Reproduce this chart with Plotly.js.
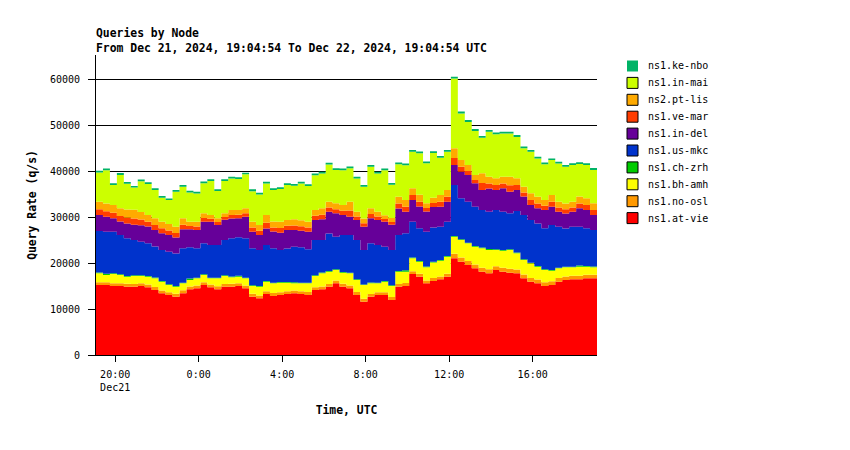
<!DOCTYPE html>
<html><head><meta charset="utf-8">
<script src="https://cdn.plot.ly/plotly-3.0.1.min.js"></script>
<style>html,body{margin:0;padding:0;background:#fff}#chart{width:850px;height:450px}</style>
</head><body><div id="chart"></div>
<script>
// Series, bottom of stack first
const seriesNames = ['ns1.at-vie','ns1.no-osl','ns1.bh-amh','ns1.ch-zrh','ns1.us-mkc','ns1.in-del','ns1.ve-mar','ns2.pt-lis','ns1.in-mai','ns1.ke-nbo'];
const seriesColors = ['#FF0000','#FF9900','#FFFF00','#00CC00','#0033CC','#660099','#FF3D00','#FFAA00','#CCFF00','#00B366'];

// 20-minute samples from 2024-12-21 19:04:54 UTC (q/s)
const atVie = [15220,15220,15000,15000,14850,14850,15000,14710,14130,13410,
 13040,12680,13410,14280,14490,15220,14710,14280,14850,14850,
 15000,14490,12680,12320,13260,12830,13040,13260,13410,13260,
 13040,14130,14280,14850,15580,14850,14490,13040,11590,12680,
 13040,13040,11960,14850,15000,17610,17030,15580,16100,16450,
 17030,21010,20290,19560,18840,18120,17750,18480,18120,17900,
 17750,16670,15940,15580,15000,15220,15940,16300,16450,16450,
 16670,16670,16670];
const noOsl = [600,620,580,600,640,610,590,620,650,630,
 600,610,640,600,620,590,610,650,600,620,
 580,610,640,620,600,630,610,590,620,600,
 640,610,620,590,600,630,610,650,640,600,
 620,610,650,600,640,590,620,610,650,640,
 620,980,900,880,860,850,870,840,860,850,
 830,820,800,810,790,800,780,770,790,760,
 780,770,760];
const bhAmh = [1940,1550,2030,1790,1530,1710,1580,1700,1890,1910,
 1570,1560,1530,1430,1550,1580,1350,1740,1720,1410,
 1450,1560,1680,1920,2080,2120,2070,1870,1550,1720,
 1900,2430,2860,2670,2300,2410,2650,2610,2980,2300,
 1920,2290,2390,2660,2480,2820,2640,2870,3350,3420,
 3730,3730,3810,3830,3850,4220,4200,3510,3710,4080,
 3520,3170,3190,2810,2690,2320,2120,1980,1820,1990,
 1760,1620,1780];
const chZrh = [150,250,150,140,160,150,150,140,160,150,
 150,140,150,300,150,160,150,140,150,160,
 200,150,140,150,160,150,150,140,250,150,
 150,160,150,140,150,160,150,150,140,160,
 150,150,160,140,300,150,150,160,150,140,
 150,160,150,150,140,160,250,150,140,150,
 160,150,150,140,160,150,150,140,150,250,
 150,160,150];
const usMkc = [9050,9170,9050,8550,8180,7680,7310,7100,6730,6730,
 7100,7100,7460,6800,6370,6730,7100,7100,7680,8330,
 8350,8550,8040,7820,7820,7460,6950,7310,7720,7680,
 7240,7680,7100,8180,7100,8040,8180,8550,7460,8550,
 8180,7460,7680,7820,8030,7820,7100,7600,7450,7240,
 7460,11080,8910,8910,8550,8180,8080,8550,8330,7820,
 9050,9630,9270,9270,8910,9780,8910,8330,8690,8450,
 8180,7970,8180];
const inDel = [3480,3260,2900,2950,3210,3300,3580,3650,3600,3640,
 3620,3480,4130,3910,3990,4710,5070,4350,4380,4330,
 4130,4710,3620,3260,3600,3640,3770,3990,3620,3610,
 3840,4350,4490,4710,5070,4350,3990,4350,5070,5440,
 5430,5400,5460,5800,4710,4690,4730,4350,4500,4350,
 4350,4350,5800,5780,5070,4350,5070,4350,5070,4710,
 4570,3990,3260,3280,3990,3970,3260,3240,3260,3990,
 3990,3260,4350];
const veMar = [1220,1200,1240,1210,1280,1370,1220,1070,1090,1060,
 1000,970,1000,700,760,780,610,630,600,760,
 760,770,910,900,1220,910,1000,920,970,960,
 910,900,1000,920,910,900,1370,760,780,910,
 760,610,620,1070,1060,1080,1070,760,840,1070,
 1060,1520,1070,910,760,1520,1070,1080,1060,1370,
 1060,910,1070,1060,910,1070,900,920,910,1070,
 1060,1080,1370];
const ptLis = [1680,1690,1670,1680,1760,1890,1680,1470,1480,1460,
 1390,1350,1390,970,1050,1040,840,850,830,1050,
 1050,1060,1260,1250,1680,1260,1390,1270,1350,1340,
 1260,1250,1390,1260,1270,1250,1890,1050,1040,1260,
 1050,840,850,1470,1460,1480,1470,1050,1160,1470,
 1460,2100,1470,1260,1050,2100,1470,1480,1460,1890,
 1470,1260,1470,1460,1260,1470,1250,1270,1260,1470,
 1460,1480,1890];
const inMai = [6360,7210,4330,7230,5630,4840,6650,6720,6140,5200,
 5200,7590,6870,6360,6140,6500,7370,5920,7010,6870,
 6720,7370,6650,6650,6870,6870,7080,7590,7300,7950,
 7740,7590,7590,8100,7230,7590,7290,7230,6870,9040,
 8320,9770,7230,7080,7590,7950,9040,8680,9720,8100,
 8320,15160,10110,9380,9600,7720,9750,9530,9380,9380,
 9000,8320,9040,8320,7740,7590,8320,7950,7950,7080,
 7230,7230,7230];
const keNbo = [380,400,370,390,380,360,380,390,370,380,
 360,380,390,370,380,390,380,370,380,390,
 380,370,390,380,380,370,390,380,370,380,
 390,380,370,380,390,380,370,380,390,380,
 370,380,390,380,370,380,390,380,370,380,
 390,420,410,400,390,400,410,400,390,400,
 400,390,380,390,380,370,380,390,380,370,
 380,390,380];

const xTickVals = ['2024-12-21 20:00','2024-12-22 00:00','2024-12-22 04:00','2024-12-22 08:00','2024-12-22 12:00','2024-12-22 16:00'];
const xTickText = ['20:00<br>Dec21','0:00','4:00','8:00','12:00','16:00'];
const yTickVals = [0,10000,20000,30000,40000,50000,60000];

const allSeries = [atVie,noOsl,bhAmh,chZrh,usMkc,inDel,veMar,ptLis,inMai,keNbo];

const startMs = Date.UTC(2024,11,21,19,4,54);
const stepMs = 20*60*1000;
const times = atVie.map((_,i)=> new Date(startMs + i*stepMs).toISOString().slice(0,19).replace('T',' '));

const FONT = 'DejaVu Sans Mono, Liberation Mono, monospace';

const traces = allSeries.map((vals,i)=>({
  type:'scatter', mode:'lines', x: times, y: vals, name: seriesNames[i],
  stackgroup:'one', line:{width:0, shape:'hv', color:seriesColors[i]},
  fillcolor: seriesColors[i], showlegend:false, hoverinfo:'x+y+name'
}));

// legend drawn as squares + labels (top entry = last series)
const L = 96, W = 501, B = 355, H = 300;
const shapes = [], annotations = [];
for (let j=0;j<seriesNames.length;j++){
  const i = seriesNames.length-1-j;
  const cy = 66 + j*16.9;
  shapes.push({type:'rect', xref:'paper', yref:'paper',
    x0:(627-L)/W, x1:(638-L)/W, y0:(B-(cy+5.5))/H, y1:(B-(cy-5.5))/H,
    fillcolor:seriesColors[i], line:{color:'#000', width: i===seriesNames.length-1?0:1}});
  annotations.push({xref:'paper', yref:'paper', x:(646-L)/W, y:(B-cy)/H,
    xanchor:'left', yanchor:'middle', showarrow:false, text:seriesNames[i],
    font:{family:FONT, size:10, color:'#000'}});
}

const layout = {
  width:850, height:450,
  margin:{l:96, r:253, t:55, b:95, pad:0},
  paper_bgcolor:'#fff', plot_bgcolor:'#fff',
  font:{family:FONT, size:10, color:'#000'},
  showlegend:false,
  title:{text:'Queries by Node<br>From Dec 21, 2024, 19:04:54 To Dec 22, 2024, 19:04:54 UTC',
    font:{family:FONT, size:11.4, weight:'bold', color:'#000'},
    xref:'container', yref:'container', x:96/850, xanchor:'left', y:1-37/450, yanchor:'top'},
  xaxis:{type:'date', range:['2024-12-21 19:04:54','2024-12-22 19:04:54'],
    tickmode:'array', tickvals:xTickVals, ticktext:xTickText,
    ticks:'outside', ticklen:6, tickcolor:'#000', tickwidth:1,
    showgrid:false, showline:true, linecolor:'#000', linewidth:1, zeroline:false,
    ticklabelstandoff:4, layer:'below traces',
    title:{text:'Time, UTC', font:{family:FONT, size:11.4, weight:'bold', color:'#000'}, standoff:14}},
  yaxis:{range:[0,65217], tickmode:'array', tickvals:yTickVals, tickformat:'d',
    ticks:'outside', ticklen:7, tickcolor:'#000', tickwidth:1,
    showgrid:true, gridcolor:'#000', gridwidth:1, zeroline:false,
    showline:true, linecolor:'#000', linewidth:1, layer:'below traces',
    ticklabelstandoff:6,
    title:{text:'Query Rate (q/s)', font:{family:FONT, size:11.4, weight:'bold', color:'#000'}, standoff:10}},
  shapes:shapes, annotations:annotations
};

Plotly.newPlot('chart', traces, layout, {staticPlot:true, displayModeBar:false});
</script>
</body></html>
